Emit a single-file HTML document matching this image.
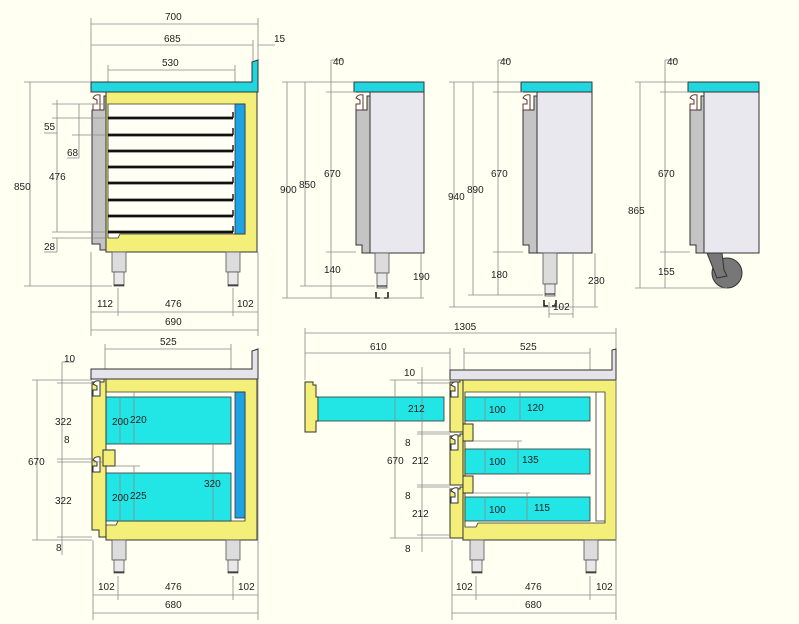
<!DOCTYPE html>
<html><head><meta charset="utf-8"><style>
html,body{margin:0;padding:0;background:#fffff2}
svg{display:block}
text{font-family:"Liberation Sans Narrow","Liberation Sans",sans-serif;font-size:10px;fill:#222;font-stretch:condensed}
.d{stroke:#8a8a8a;stroke-width:0.8;fill:none}
.k{stroke:#111;stroke-width:1;}
</style></head><body>
<svg width="799" height="624" viewBox="0 0 799 624" xmlns="http://www.w3.org/2000/svg">
<rect width="799" height="624" fill="#fffff2"/>

<!-- ============ VIEW 1 (front, shelves) ============ -->
<g>
<line class="d" x1="91" y1="24" x2="258" y2="24"/><line class="d" x1="91" y1="18" x2="91" y2="82"/><line class="d" x1="258" y1="18" x2="258" y2="62"/>
<text x="165" y="20">700</text>
<line class="d" x1="91" y1="45" x2="253" y2="45"/><line class="d" x1="253" y1="40" x2="253" y2="62"/><line class="d" x1="258" y1="45" x2="275" y2="45"/>
<text x="164" y="42">685</text><text x="274" y="42">15</text>
<line class="d" x1="108" y1="70" x2="235" y2="70"/><line class="d" x1="108" y1="65" x2="108" y2="104"/><line class="d" x1="235" y1="65" x2="235" y2="104"/>
<text x="162" y="66">530</text>
<path d="M91 82 H252 V62 L258 60 V92 H91 Z" fill="#22d6e0" stroke="#333" stroke-width="1"/>
<rect x="106" y="92" width="151" height="160" fill="#f4ef78" stroke="#333" stroke-width="1"/>
<path d="M108 104 H245 V234 H120 L118 238 H108 Z" fill="#fffff6" stroke="#333" stroke-width="0.8"/>
<rect x="235" y="104" width="10" height="130" fill="#1da2e4" stroke="#333" stroke-width="0.8"/>
<g stroke="#111" stroke-width="2.8">
<line x1="108" y1="118" x2="233" y2="118"/><line x1="108" y1="135" x2="233" y2="135"/><line x1="108" y1="151" x2="233" y2="151"/><line x1="108" y1="167" x2="233" y2="167"/><line x1="108" y1="183" x2="233" y2="183"/><line x1="108" y1="200" x2="233" y2="200"/><line x1="108" y1="216" x2="233" y2="216"/><line x1="108" y1="232" x2="233" y2="232"/>
</g>
<g stroke="#111" stroke-width="1.4">
<line x1="233" y1="112" x2="233" y2="118"/><line x1="233" y1="128" x2="233" y2="135"/><line x1="233" y1="145" x2="233" y2="151"/><line x1="233" y1="161" x2="233" y2="167"/><line x1="233" y1="177" x2="233" y2="183"/><line x1="233" y1="194" x2="233" y2="200"/><line x1="233" y1="210" x2="233" y2="216"/><line x1="233" y1="226" x2="233" y2="232"/>
</g>
<path d="M92 110 H104 V96 H106 V250 H100 V244 H92 Z" fill="#c4c4c4" stroke="#333" stroke-width="1"/>
<path d="M93 98 Q95 94 100 95 V110 H93 V104 H97 V100 Z" fill="#fff" stroke="#633" stroke-width="1"/>
<rect x="112" y="252" width="14" height="20" fill="#dcdcdc" stroke="#555" stroke-width="0.8"/>
<rect x="114" y="272" width="10" height="14" fill="#e8e8e8" stroke="#555" stroke-width="0.8"/><line x1="114" y1="285" x2="124" y2="285" class="k" stroke-width="2"/>
<rect x="226" y="252" width="14" height="20" fill="#dcdcdc" stroke="#555" stroke-width="0.8"/>
<rect x="228" y="272" width="10" height="14" fill="#e8e8e8" stroke="#555" stroke-width="0.8"/><line x1="228" y1="285" x2="238" y2="285" class="k" stroke-width="2"/>
<line class="d" x1="30" y1="82" x2="30" y2="286"/><line class="d" x1="24" y1="82" x2="91" y2="82"/><line class="d" x1="24" y1="286" x2="112" y2="286"/>
<text x="14" y="190">850</text>
<line class="d" x1="57" y1="100" x2="57" y2="232"/><line class="d" x1="52" y1="104" x2="108" y2="104"/><line class="d" x1="52" y1="118" x2="108" y2="118"/><line class="d" x1="52" y1="232" x2="108" y2="232"/><line class="d" x1="52" y1="238" x2="108" y2="238"/>
<text x="49" y="180">476</text>
<text x="44" y="130">55</text><line class="d" x1="44" y1="133" x2="57" y2="133"/>
<line class="d" x1="79" y1="104" x2="79" y2="135"/><line class="d" x1="72" y1="135" x2="108" y2="135"/>
<text x="67" y="156">68</text><line class="d" x1="67" y1="158" x2="79" y2="158"/><line class="d" x1="79" y1="135" x2="79" y2="158"/>
<text x="44" y="250">28</text><line class="d" x1="44" y1="252" x2="57" y2="252"/><line class="d" x1="57" y1="238" x2="57" y2="252"/>
<line class="d" x1="91" y1="312" x2="258" y2="312"/><line class="d" x1="91" y1="252" x2="91" y2="336"/><line class="d" x1="258" y1="252" x2="258" y2="336"/><line class="d" x1="118" y1="288" x2="118" y2="316"/><line class="d" x1="233" y1="288" x2="233" y2="316"/>
<text x="97" y="307">112</text><text x="165" y="307">476</text><text x="237" y="307">102</text>
<line class="d" x1="91" y1="330" x2="258" y2="330"/><text x="165" y="325">690</text>
</g>

<!-- ============ SIDE VIEWS ============ -->
<g>
<rect x="354" y="82" width="70" height="10" fill="#22d6e0" stroke="#333"/>
<rect x="370" y="92" width="54" height="161" fill="#e8e8ee" stroke="#333"/>
<path d="M356 110 H367 V96 H370 V253 H362 V245 H356 Z" fill="#c4c4c4" stroke="#333"/>
<path d="M356 98 Q358 94 363 95 V110 H356 V104 H360 V100 Z" fill="#fff" stroke="#633"/>
<rect x="375" y="253" width="14" height="20" fill="#dcdcdc" stroke="#555" stroke-width="0.8"/>
<rect x="377" y="273" width="10" height="15" fill="#e8e8e8" stroke="#555" stroke-width="0.8"/><line x1="377" y1="286" x2="387" y2="286" class="k" stroke-width="2"/>
<path d="M376 292 V298 H380 M384 298 H388 V292" stroke="#111" fill="none" stroke-width="1.5"/>
<line class="d" x1="287" y1="82" x2="287" y2="298"/><line class="d" x1="282" y1="82" x2="354" y2="82"/><line class="d" x1="282" y1="298" x2="424" y2="298"/>
<text x="280" y="193">900</text>
<line class="d" x1="305" y1="82" x2="305" y2="286"/><line class="d" x1="300" y1="286" x2="375" y2="286"/><text x="299" y="188">850</text>
<line class="d" x1="331" y1="60" x2="331" y2="298"/><line class="d" x1="326" y1="92" x2="356" y2="92"/><line class="d" x1="326" y1="252" x2="356" y2="252"/><line class="d" x1="331" y1="60" x2="343" y2="60"/>
<text x="333" y="65">40</text><text x="324" y="177">670</text><text x="324" y="273">140</text>
<line class="d" x1="421" y1="253" x2="421" y2="298"/><text x="413" y="280">190</text>
</g>
<g>
<rect x="521" y="82" width="71" height="10" fill="#22d6e0" stroke="#333"/>
<rect x="537" y="92" width="55" height="161" fill="#e8e8ee" stroke="#333"/>
<path d="M523 110 H534 V96 H537 V253 H529 V245 H523 Z" fill="#c4c4c4" stroke="#333"/>
<path d="M523 98 Q525 94 530 95 V110 H523 V104 H527 V100 Z" fill="#fff" stroke="#633"/>
<rect x="543" y="253" width="14" height="31" fill="#dcdcdc" stroke="#555" stroke-width="0.8"/>
<rect x="545" y="284" width="10" height="12" fill="#e8e8e8" stroke="#555" stroke-width="0.8"/><line x1="545" y1="294" x2="555" y2="294" class="k" stroke-width="2"/>
<path d="M544 300 V306 H548 M552 306 H556 V300" stroke="#111" fill="none" stroke-width="1.5"/>
<line class="d" x1="454" y1="82" x2="454" y2="307"/><line class="d" x1="449" y1="82" x2="521" y2="82"/><line class="d" x1="449" y1="307" x2="598" y2="307"/>
<text x="448" y="200">940</text>
<line class="d" x1="473" y1="82" x2="473" y2="295"/><line class="d" x1="468" y1="295" x2="543" y2="295"/><text x="467" y="193">890</text>
<line class="d" x1="498" y1="60" x2="498" y2="295"/><line class="d" x1="493" y1="92" x2="523" y2="92"/><line class="d" x1="493" y1="252" x2="523" y2="252"/><line class="d" x1="498" y1="60" x2="510" y2="60"/>
<text x="500" y="65">40</text><text x="491" y="177">670</text><text x="491" y="278">180</text>
<line class="d" x1="595" y1="253" x2="595" y2="307"/><text x="588" y="284">230</text>
<line class="d" x1="573" y1="253" x2="573" y2="318"/><line class="d" x1="549" y1="302" x2="549" y2="318"/><line class="d" x1="549" y1="314" x2="573" y2="314"/><text x="553" y="310">102</text>
</g>
<g>
<rect x="688" y="82" width="71" height="10" fill="#22d6e0" stroke="#333"/>
<rect x="704" y="92" width="55" height="161" fill="#e8e8ee" stroke="#333"/>
<path d="M690 110 H701 V96 H704 V253 H696 V245 H690 Z" fill="#c4c4c4" stroke="#333"/>
<path d="M690 98 Q692 94 697 95 V110 H690 V104 H694 V100 Z" fill="#fff" stroke="#633"/>
<circle cx="727" cy="273" r="15" fill="#777" stroke="#333"/>
<path d="M707 253 H722 L724 270 L727 276 L717 278 Z" fill="#777" stroke="#333"/>
<line class="d" x1="640" y1="82" x2="640" y2="288"/><line class="d" x1="635" y1="82" x2="688" y2="82"/><line class="d" x1="635" y1="288" x2="727" y2="288"/>
<text x="628" y="214">865</text>
<line class="d" x1="665" y1="60" x2="665" y2="288"/><line class="d" x1="660" y1="92" x2="690" y2="92"/><line class="d" x1="660" y1="252" x2="690" y2="252"/><line class="d" x1="665" y1="60" x2="677" y2="60"/>
<text x="667" y="65">40</text><text x="658" y="177">670</text><text x="658" y="275">155</text>
</g>

<!-- ============ BOTTOM-LEFT ============ -->
<g>
<line class="d" x1="105" y1="349" x2="231" y2="349"/><line class="d" x1="105" y1="344" x2="105" y2="397"/><line class="d" x1="231" y1="344" x2="231" y2="397"/>
<text x="160" y="345">525</text>
<path d="M91 369 H252 V351 L258 349 V379 H91 Z" fill="#e4e4ea" stroke="#333"/>
<rect x="106" y="379" width="151" height="161" fill="#f4ef78" stroke="#333"/>
<path d="M106 392 H245 V521 H118 L116 525 H106 Z" fill="#fffff6" stroke="#333" stroke-width="0.8"/>
<rect x="235" y="392" width="10" height="126" fill="#1da2e4" stroke="#333" stroke-width="0.8"/>
<rect x="106" y="397" width="125" height="47" fill="#22e6e6" stroke="#333" stroke-width="0.8"/>
<rect x="106" y="473" width="125" height="48" fill="#22e6e6" stroke="#333" stroke-width="0.8"/>
<path d="M92 382 H104 V379 H106 V537 H99 V530 H92 Z" fill="#f4ef78" stroke="#333"/>
<path d="M93 384 Q95 380 100 381 V396 H93 V390 H97 V386 Z" fill="#fff" stroke="#333"/>
<path d="M93 460 Q95 456 100 457 V472 H93 V466 H97 V462 Z" fill="#fff" stroke="#333"/>
<rect x="103" y="450" width="12" height="16" fill="#f4ef78" stroke="#333"/>
<g class="d"><line x1="120" y1="397" x2="120" y2="444"/><line x1="134" y1="392" x2="134" y2="444"/><line x1="120" y1="473" x2="120" y2="521"/><line x1="134" y1="466" x2="134" y2="521"/><line x1="213" y1="444" x2="213" y2="521"/><line x1="115" y1="466" x2="140" y2="466"/></g>
<text x="112" y="425">200</text><text x="130" y="423">220</text><text x="112" y="501">200</text><text x="130" y="499">225</text><text x="204" y="487">320</text>
<rect x="112" y="540" width="14" height="20" fill="#dcdcdc" stroke="#555" stroke-width="0.8"/><rect x="114" y="560" width="10" height="13" fill="#e8e8e8" stroke="#555" stroke-width="0.8"/><line x1="114" y1="572" x2="124" y2="572" class="k" stroke-width="2"/>
<rect x="226" y="540" width="14" height="20" fill="#dcdcdc" stroke="#555" stroke-width="0.8"/><rect x="228" y="560" width="10" height="13" fill="#e8e8e8" stroke="#555" stroke-width="0.8"/><line x1="228" y1="572" x2="238" y2="572" class="k" stroke-width="2"/>
<line class="d" x1="37" y1="380" x2="37" y2="540"/><line class="d" x1="32" y1="380" x2="92" y2="380"/><line class="d" x1="32" y1="540" x2="92" y2="540"/>
<text x="28" y="465">670</text>
<line class="d" x1="62" y1="362" x2="62" y2="555"/><line class="d" x1="62" y1="362" x2="74" y2="362"/><line class="d" x1="57" y1="383" x2="92" y2="383"/><line class="d" x1="57" y1="459" x2="92" y2="459"/><line class="d" x1="57" y1="462" x2="103" y2="462"/><line class="d" x1="57" y1="537" x2="92" y2="537"/>
<text x="64" y="362">10</text><text x="55" y="425">322</text><text x="64" y="443">8</text><text x="55" y="504">322</text><text x="56" y="551">8</text>
<line class="d" x1="93" y1="540" x2="93" y2="620"/><line class="d" x1="258" y1="380" x2="258" y2="620"/><line class="d" x1="118" y1="576" x2="118" y2="600"/><line class="d" x1="233" y1="576" x2="233" y2="600"/>
<line class="d" x1="93" y1="595" x2="258" y2="595"/><line class="d" x1="93" y1="613" x2="258" y2="613"/>
<text x="98" y="590">102</text><text x="165" y="590">476</text><text x="238" y="590">102</text><text x="165" y="608">680</text>
</g>

<!-- ============ BOTTOM-RIGHT ============ -->
<g>
<line class="d" x1="305" y1="333" x2="616" y2="333"/><line class="d" x1="305" y1="328" x2="305" y2="380"/><line class="d" x1="616" y1="328" x2="616" y2="350"/>
<text x="454" y="330">1305</text>
<line class="d" x1="305" y1="353" x2="450" y2="353"/><line class="d" x1="450" y1="348" x2="450" y2="370"/><text x="370" y="350">610</text>
<line class="d" x1="464" y1="353" x2="590" y2="353"/><line class="d" x1="464" y1="348" x2="464" y2="397"/><line class="d" x1="590" y1="348" x2="590" y2="397"/><text x="520" y="350">525</text>
<path d="M450 370 H612 V350 L616 349 V380 H450 Z" fill="#e4e4ea" stroke="#333"/>
<rect x="463" y="380" width="153" height="160" fill="#f4ef78" stroke="#333"/>
<path d="M465 392 H605 V523 H478 L476 527 H465 Z" fill="#fffff6" stroke="#333" stroke-width="0.8"/>
<path d="M596 392 V521 H605" fill="none" stroke="#333" stroke-width="0.8"/>
<rect x="465" y="397" width="125" height="24" fill="#22e6e6" stroke="#333" stroke-width="0.8"/>
<rect x="465" y="449" width="125" height="25" fill="#22e6e6" stroke="#333" stroke-width="0.8"/>
<rect x="465" y="497" width="125" height="24" fill="#22e6e6" stroke="#333" stroke-width="0.8"/>
<path d="M450 382 H460 V380 H463 V432 H450 Z" fill="#f4ef78" stroke="#333"/>
<path d="M450 436 H460 V434 H463 V485 H450 Z" fill="#f4ef78" stroke="#333"/>
<path d="M450 489 H460 V487 H463 V538 H450 Z" fill="#f4ef78" stroke="#333"/>
<path d="M451 385 Q453 381 458 382 V397 H451 V391 H455 V387 Z" fill="#fff" stroke="#333"/>
<path d="M451 438 Q453 434 458 435 V450 H451 V444 H455 V440 Z" fill="#fff" stroke="#333"/>
<path d="M451 491 Q453 487 458 488 V503 H451 V497 H455 V493 Z" fill="#fff" stroke="#333"/>
<rect x="463" y="424" width="10" height="17" fill="#f4ef78" stroke="#333"/>
<rect x="463" y="476" width="10" height="17" fill="#f4ef78" stroke="#333"/>
<path d="M305 382 H313 V385 H316 V397 H318 V421 H316 V432 H305 Z" fill="#f4ef78" stroke="#333"/>
<rect x="318" y="397" width="126" height="24" fill="#22e6e6" stroke="#333" stroke-width="0.8"/>
<g class="d">
<line x1="485" y1="397" x2="485" y2="421"/><line x1="520" y1="392" x2="520" y2="421"/>
<line x1="485" y1="449" x2="485" y2="474"/><line x1="518" y1="441" x2="518" y2="474"/><line x1="473" y1="441" x2="522" y2="441"/>
<line x1="485" y1="497" x2="485" y2="521"/><line x1="527" y1="493" x2="527" y2="521"/><line x1="473" y1="493" x2="530" y2="493"/>
<line x1="395" y1="380" x2="395" y2="538"/><line x1="390" y1="380" x2="450" y2="380"/><line x1="390" y1="538" x2="450" y2="538"/>
<line x1="422" y1="367" x2="422" y2="552"/><line x1="417" y1="383" x2="450" y2="383"/><line x1="417" y1="432" x2="450" y2="432"/><line x1="417" y1="434" x2="450" y2="434"/><line x1="417" y1="485" x2="450" y2="485"/><line x1="417" y1="487" x2="450" y2="487"/><line x1="417" y1="535" x2="450" y2="535"/>
<line x1="452" y1="540" x2="452" y2="620"/><line x1="616" y1="380" x2="616" y2="620"/><line x1="476" y1="576" x2="476" y2="600"/><line x1="590" y1="576" x2="590" y2="600"/>
<line x1="452" y1="595" x2="616" y2="595"/><line x1="452" y1="613" x2="616" y2="613"/>
</g>
<text x="408" y="412">212</text><text x="489" y="413">100</text><text x="527" y="411">120</text>
<text x="489" y="465">100</text><text x="522" y="463">135</text>
<text x="489" y="513">100</text><text x="534" y="511">115</text>
<text x="404" y="376">10</text><text x="387" y="464">670</text>
<text x="405" y="446">8</text><text x="412" y="464">212</text><text x="405" y="499">8</text><text x="412" y="517">212</text><text x="405" y="552">8</text>
<rect x="470" y="540" width="14" height="20" fill="#dcdcdc" stroke="#555" stroke-width="0.8"/><rect x="472" y="560" width="10" height="13" fill="#e8e8e8" stroke="#555" stroke-width="0.8"/><line x1="472" y1="572" x2="482" y2="572" class="k" stroke-width="2"/>
<rect x="584" y="540" width="14" height="20" fill="#dcdcdc" stroke="#555" stroke-width="0.8"/><rect x="586" y="560" width="10" height="13" fill="#e8e8e8" stroke="#555" stroke-width="0.8"/><line x1="586" y1="572" x2="596" y2="572" class="k" stroke-width="2"/>
<text x="456" y="590">102</text><text x="525" y="590">476</text><text x="596" y="590">102</text><text x="525" y="608">680</text>
</g>
</svg>
</body></html>
